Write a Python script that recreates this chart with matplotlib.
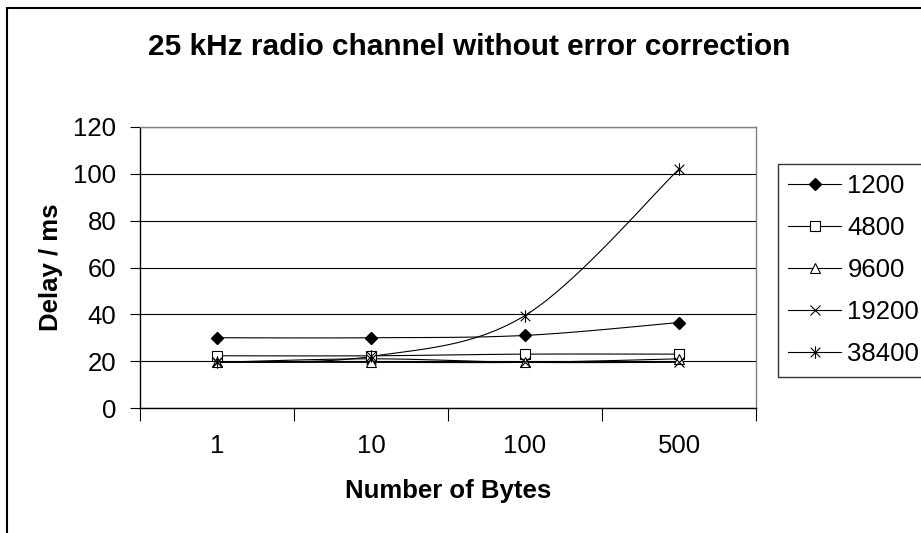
import numpy as np
import matplotlib
matplotlib.use("Agg")
import matplotlib.pyplot as plt
from matplotlib.lines import Line2D
from matplotlib.path import Path
from matplotlib.patches import Rectangle

plt.rcParams['font.family'] = ['Liberation Sans', 'DejaVu Sans']

# delay per baud rate (ms) for each message size
sizes = ['1', '10', '100', '500']
rates = ['1200', '4800', '9600', '19200', '38400']
d1200 = [30, 30, 31, 36.5]
d4800 = [22.3, 22.3, 23, 23]
d9600 = [19.5, 19.5, 19.5, 21]
d19200 = [19.5, 21, 19.5, 19.5]
d38400 = [19.5, 22, 39.5, 102]

# excel style asterisk: an x with a vertical stroke
star = Path([(-1, -1), (1, 1), (-1, 1), (1, -1), (0, -1.3), (0, 1.3)],
            [Path.MOVETO, Path.LINETO, Path.MOVETO, Path.LINETO,
             Path.MOVETO, Path.LINETO])

styles = [
    dict(marker='D', ms=6.2, mfc='black', mec='black'),
    dict(marker='s', ms=6.5, mfc='white', mec='black', mew=0.8),
    dict(marker='^', ms=7.5, mfc='white', mec='black', mew=0.8),
    dict(marker='x', ms=7, mfc='none', mec='black', mew=0.8),
    dict(marker=star, ms=9, mfc='none', mec='black', mew=0.8),
]


def smooth(y, n=40):
    # catmull-rom through the points, same as a smoothed excel line
    x = np.arange(len(y), dtype=float)
    pts = np.column_stack([x, np.asarray(y, dtype=float)])
    out = []
    for i in range(len(pts) - 1):
        p0 = pts[max(i - 1, 0)]
        p1 = pts[i]
        p2 = pts[i + 1]
        p3 = pts[min(i + 2, len(pts) - 1)]
        c1 = p1 + (p2 - p0) / 6
        c2 = p2 - (p3 - p1) / 6
        t = np.linspace(0, 1, n)[:, None]
        seg = ((1 - t) ** 3 * p1 + 3 * (1 - t) ** 2 * t * c1
               + 3 * (1 - t) * t ** 2 * c2 + t ** 3 * p2)
        out.append(seg if i == 0 else seg[1:])
    seg = np.vstack(out)
    return seg[:, 0], seg[:, 1]


fig = plt.figure(figsize=(9.21, 5.33), dpi=100)
W, H = 921, 533
ax = fig.add_axes([140 / W, 1 - 408 / H, 616 / W, 281 / H])

x = np.arange(len(sizes))
handles = []
for vals, st, lab in zip([d1200, d4800, d9600, d19200, d38400], styles, rates):
    sx, sy = smooth(vals)
    ax.plot(sx, sy, color='black', lw=0.8, zorder=2)
    ax.plot(x, vals, ls='none', zorder=3, **st)
    handles.append(Line2D([], [], color='black', lw=0.8, label=lab, **st))

ax.set_xlim(-0.5, 3.5)
ax.set_ylim(0, 120)
ax.set_yticks(np.arange(0, 121, 20))
ax.yaxis.grid(True, color='black', lw=0.8)
ax.set_axisbelow(True)

ax.set_xticks(np.arange(-0.5, 3.6, 1))
ax.set_xticklabels([])
ax.set_xticks(x, minor=True)
ax.set_xticklabels(sizes, minor=True)
ax.tick_params(axis='x', which='major', length=9, width=0.8, direction='out')
ax.tick_params(axis='x', which='minor', length=0, pad=19, labelsize=18.5)
ax.tick_params(axis='y', length=7, width=0.8, pad=10, labelsize=18.5)

for s in ['left', 'bottom']:
    ax.spines[s].set_color('black')
    ax.spines[s].set_linewidth(1)
for s in ['right', 'top']:
    ax.spines[s].set_color('#808080')
    ax.spines[s].set_linewidth(1)

fig.text(469 / W, 1 - 55 / H, '25 kHz radio channel without error correction',
         ha='center', va='baseline', fontsize=21.4, fontweight='bold')
fig.text(448 / W, 1 - 498 / H, 'Number of Bytes',
         ha='center', va='baseline', fontsize=18.5, fontweight='bold')
fig.text(58 / W, 1 - 267 / H, 'Delay / ms', rotation=90, rotation_mode='anchor',
         ha='center', va='baseline', fontsize=18.5, fontweight='bold')

leg = fig.legend(handles=handles, loc='upper left',
                 bbox_to_anchor=(778 / W, 1 - 164 / H), borderaxespad=0,
                 fontsize=18.5, frameon=True, fancybox=False,
                 handlelength=2.05, handletextpad=0.25, labelspacing=0.7,
                 borderpad=0.4)
leg.get_frame().set_edgecolor('black')
leg.get_frame().set_linewidth(1)

# outer chart border
fig.patches.append(Rectangle((7 / W, -0.1), 1.2, 1.1 - 8 / H, fill=False,
                             edgecolor='black', lw=1.5,
                             transform=fig.transFigure))

fig.savefig('out.png', dpi=100)
